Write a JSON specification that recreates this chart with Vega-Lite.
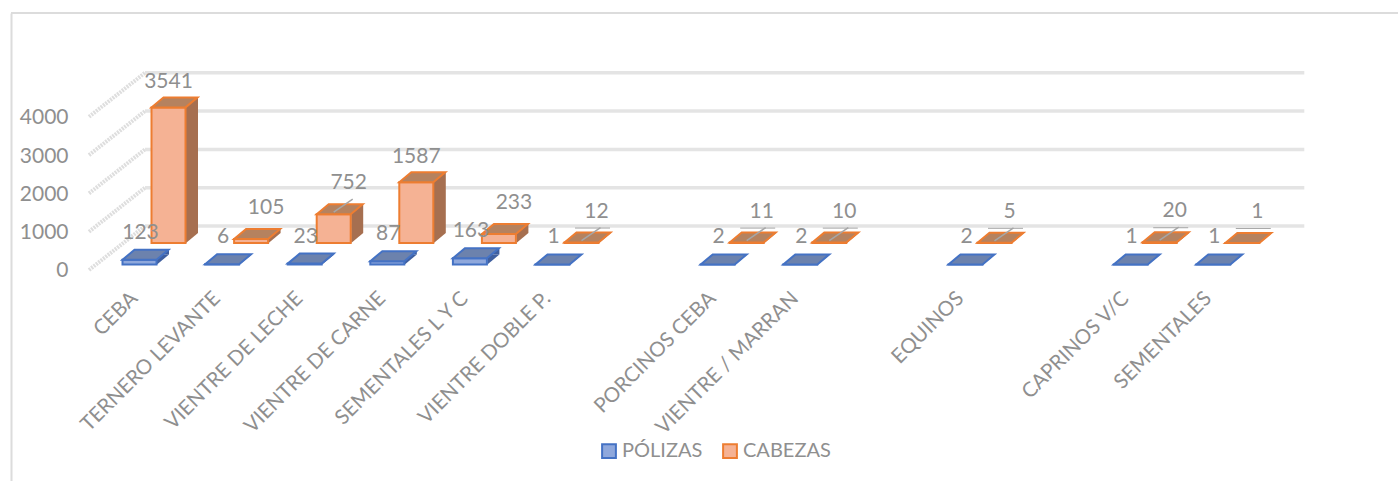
{
"$schema":"https://vega.github.io/schema/vega-lite/v6.json",
"width":1386,"height":468,
"autosize":"none",
"padding":{"left":11,"top":13,"right":1,"bottom":0},
"background":"white",
"config":{"view":{"stroke":null},"font":"Lato","text":{"font":"Lato"}},
"data":{"values":[
{"cat":"CEBA","series":"PÓLIZAS","value":123},{"cat":"CEBA","series":"CABEZAS","value":3541},
{"cat":"TERNERO LEVANTE","series":"PÓLIZAS","value":6},{"cat":"TERNERO LEVANTE","series":"CABEZAS","value":105},
{"cat":"VIENTRE DE LECHE","series":"PÓLIZAS","value":23},{"cat":"VIENTRE DE LECHE","series":"CABEZAS","value":752},
{"cat":"VIENTRE DE CARNE","series":"PÓLIZAS","value":87},{"cat":"VIENTRE DE CARNE","series":"CABEZAS","value":1587},
{"cat":"SEMENTALES L Y C","series":"PÓLIZAS","value":163},{"cat":"SEMENTALES L Y C","series":"CABEZAS","value":233},
{"cat":"VIENTRE DOBLE P.","series":"PÓLIZAS","value":1},{"cat":"VIENTRE DOBLE P.","series":"CABEZAS","value":12},
{"cat":"PORCINOS CEBA","series":"PÓLIZAS","value":2},{"cat":"PORCINOS CEBA","series":"CABEZAS","value":11},
{"cat":"VIENTRE / MARRAN","series":"PÓLIZAS","value":2},{"cat":"VIENTRE / MARRAN","series":"CABEZAS","value":10},
{"cat":"EQUINOS","series":"PÓLIZAS","value":2},{"cat":"EQUINOS","series":"CABEZAS","value":5},
{"cat":"CAPRINOS V/C","series":"PÓLIZAS","value":1},{"cat":"CAPRINOS V/C","series":"CABEZAS","value":20},
{"cat":"SEMENTALES","series":"PÓLIZAS","value":1},{"cat":"SEMENTALES","series":"CABEZAS","value":1}
]},
"encoding":{
"x":{"field":"cat","type":"nominal","sort":null,"title":null,
"scale":{"type":"band","domain":["CEBA","TERNERO LEVANTE","VIENTRE DE LECHE","VIENTRE DE CARNE","SEMENTALES L Y C","VIENTRE DOBLE P."," ","PORCINOS CEBA","VIENTRE / MARRAN","  ","EQUINOS","   ","CAPRINOS V/C","SEMENTALES"],"range":[87.2,1243.6],"paddingInner":0,"paddingOuter":0},
"axis":{"orient":"bottom","offset":-188,"domain":false,"ticks":false,"labelAngle":-45,"labelAlign":"right","labelBaseline":"middle","labelFontSize":20.5,"labelColor":"#8f8f8f","labelFont":"Lato","labelPadding":2,"labelOffset":-5,"labelOverlap":false,"labelLimit":400,"grid":false,"title":null}},
"y":{"field":"value","type":"quantitative","title":null,
"scale":{"domain":[-5509,6710],"range":[468,0],"nice":false,"zero":false},
"axis":{"orient":"left","values":[0,1000,2000,3000,4000],"format":"d","domain":true,"domainColor":"#dcdcdc","domainWidth":2,"ticks":false,"grid":false,"labelFontSize":21,"labelColor":"#8f8f8f","labelFont":"Lato","labelPadding":-57,"labelOffset":1,"title":null}}
},
"layer":[
{"data":{"values":[{"edge":6710}]},
 "mark":{"type":"rule","stroke":"#dcdcdc","strokeWidth":2,"xOffset":-128.5,"x2Offset":185},
 "encoding":{"x":{"datum":"CEBA"},"x2":{"datum":"SEMENTALES"},"y":{"field":"edge","type":"quantitative"}}},
{"data":{"values":[{"tick":0},{"tick":1000},{"tick":2000},{"tick":3000},{"tick":4000}]},
 "mark":{"type":"rule","stroke":"#dedede","strokeWidth":4,"strokeDash":[2,1],"xOffset":-50.5,"x2Offset":5.5,"y2Offset":-44},
 "encoding":{"x":{"datum":"CEBA"},"x2":{"datum":"CEBA"},"y":{"field":"tick","type":"quantitative"},"y2":{"field":"tick"}}},
{"data":{"values":[{"tick":0},{"tick":1000},{"tick":2000},{"tick":3000},{"tick":4000}]},
 "mark":{"type":"rule","stroke":"#e4e4e4","strokeWidth":3.5,"xOffset":5.5,"x2Offset":91,"yOffset":-44},
 "encoding":{"x":{"datum":"CEBA"},"x2":{"datum":"SEMENTALES"},"y":{"field":"tick","type":"quantitative"}}},

{"transform":[{"filter":"datum.series==='CABEZAS'"}],
 "mark":{"type":"bar","width":12,"fill":"#a66f50","xOffset":52.5,"yOffset":-37,"y2Offset":-37},
 "encoding":{"y2":{"datum":0}}},
{"transform":[{"filter":"datum.series==='CABEZAS'"}],
 "mark":{"type":"point","filled":true,"opacity":1,"size":4,"fill":"#a66f50","strokeWidth":0,"shape":"M17.5,0 L17.5,-10 L29.5,-10 Z","xOffset":29,"yOffset":-27},
 "encoding":{"y":{"datum":0}}},
{"transform":[{"filter":"datum.series==='CABEZAS'"}],
 "mark":{"type":"bar","width":34,"strokeWidth":2,"xOffset":29,"yOffset":-27,"y2Offset":-27},
 "encoding":{"y2":{"datum":0},
  "fill":{"field":"series","type":"nominal","scale":{"domain":["PÓLIZAS","CABEZAS"],"range":["#8fa8dc","#f5b294"]},"legend":{"orient":"none","legendX":588,"legendY":428,"direction":"horizontal","title":null,"symbolType":"square","symbolSize":190,"symbolStrokeWidth":2,"labelFontSize":20,"labelColor":"#8f8f8f","labelFont":"Lato","columnPadding":16,"labelOffset":3}},
  "stroke":{"field":"series","type":"nominal","scale":{"domain":["PÓLIZAS","CABEZAS"],"range":["#4472c4","#ed7d31"]},"legend":{"orient":"none","legendX":588,"legendY":428,"direction":"horizontal","title":null,"symbolType":"square","symbolSize":190,"symbolStrokeWidth":2,"labelFontSize":20,"labelColor":"#8f8f8f","labelFont":"Lato","columnPadding":16,"labelOffset":3}}}},
{"transform":[{"filter":"datum.series==='CABEZAS'"}],
 "mark":{"type":"point","filled":false,"opacity":1,"size":4,"fill":"#b5825f","fillOpacity":1,"stroke":"#ed7d31","strokeWidth":2,"strokeOpacity":1,"shape":"M-17,0 L17,0 L29,-10 L-5,-10 Z","xOffset":29,"yOffset":-27}},

{"transform":[{"filter":"datum.series==='PÓLIZAS'"}],
 "mark":{"type":"bar","width":12,"fill":"#3f5f9f","xOffset":23.5,"yOffset":-15.5,"y2Offset":-15.5},
 "encoding":{"y2":{"datum":0}}},
{"transform":[{"filter":"datum.series==='PÓLIZAS'"}],
 "mark":{"type":"point","filled":true,"opacity":1,"size":4,"fill":"#3f5f9f","strokeWidth":0,"shape":"M17.5,0 L17.5,-10 L29.5,-10 Z","yOffset":-5.5},
 "encoding":{"y":{"datum":0}}},
{"transform":[{"filter":"datum.series==='PÓLIZAS'"}],
 "mark":{"type":"bar","width":34,"strokeWidth":2,"yOffset":-5.5,"y2Offset":-5.5},
 "encoding":{"y2":{"datum":0},
  "fill":{"field":"series","type":"nominal"},
  "stroke":{"field":"series","type":"nominal"}}},
{"transform":[{"filter":"datum.series==='PÓLIZAS'"}],
 "mark":{"type":"point","filled":false,"opacity":1,"size":4,"fill":"#6c82ad","fillOpacity":1,"stroke":"#4472c4","strokeWidth":2,"strokeOpacity":1,"shape":"M-17,0 L17,0 L29,-10 L-5,-10 Z","yOffset":-5.5}},

{"transform":[{"filter":"datum.series==='CABEZAS' && datum.value<=752 && datum.value!==105 && datum.value!==233 && datum.value!==1"}],
 "mark":{"type":"rule","stroke":"#a6a6a6","strokeWidth":1.5,"xOffset":29,"x2Offset":48,"yOffset":-29,"y2Offset":-42},
 "encoding":{"x2":{"field":"cat"},"y2":{"field":"value"}}},
{"transform":[{"filter":"datum.series==='CABEZAS' && datum.value<=20"}],
 "mark":{"type":"rule","stroke":"#a6a6a6","strokeWidth":1,"xOffset":22.5,"x2Offset":57.5,"yOffset":-41.5},
 "encoding":{"x2":{"field":"cat"}}},

{"transform":[{"filter":"datum.series==='PÓLIZAS'"}],
 "mark":{"type":"text","fontSize":21,"color":"#8f8f8f","font":"Lato","dx":1,"yOffset":-32.5,"baseline":"middle"},
 "encoding":{"text":{"field":"value","type":"quantitative","format":"d"}}},
{"transform":[{"filter":"datum.series==='CABEZAS' && datum.value>1000"}],
 "mark":{"type":"text","fontSize":21,"color":"#8f8f8f","font":"Lato","dx":29,"yOffset":-52,"baseline":"middle"},
 "encoding":{"text":{"field":"value","type":"quantitative","format":"d"}}},
{"transform":[{"filter":"datum.series==='CABEZAS' && datum.value<=1000"}],
 "mark":{"type":"text","fontSize":21,"color":"#8f8f8f","font":"Lato","dx":44,"yOffset":-58,"baseline":"middle"},
 "encoding":{"text":{"field":"value","type":"quantitative","format":"d"}}},
{"data":{"values":[{"label":"PÓLIZAS"}]},
 "mark":{"type":"text","fontSize":19,"color":"#8f8f8f","font":"Lato","xOffset":114.5,"yOffset":-10,"baseline":"middle"},
 "encoding":{"x":{"datum":"SEMENTALES"},"y":{"datum":0},"text":{"field":"label"}}}
]
}
